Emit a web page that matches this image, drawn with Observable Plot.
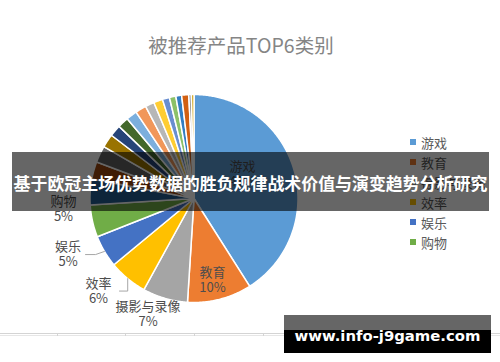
<!DOCTYPE html>
<html><head><meta charset="utf-8">
<script src="https://cdn.jsdelivr.net/npm/d3@7"></script>
<script src="https://cdn.jsdelivr.net/npm/@observablehq/plot@0.6"></script>
<style>
body{margin:0;background:#fff;}
#wrap{position:relative;width:500px;height:362px;overflow:hidden;background:#fff;font-family:"Noto Sans CJK SC","Noto Sans",sans-serif;}
#wrap svg{position:absolute;left:0;top:0;}
.title{position:absolute;left:0;width:482px;top:30px;text-align:center;font-size:19.5px;line-height:30px;color:#858585;}
.legend{position:absolute;left:410px;top:132px;}
.legend .item{height:20px;display:flex;align-items:center;font-size:13px;color:#595959;}
.legend .sw{width:6px;height:6px;margin-right:5px;}
.grid{position:absolute;left:0;width:500px;height:0;border-top:1px solid #d4d4d4;}
.tick{position:absolute;width:0;height:3px;border-left:1px solid #d4d4d4;top:333px;}
.banner{position:absolute;left:12px;top:152px;width:477px;height:59px;background:rgba(0,0,0,0.6);color:#fff;font-weight:bold;font-size:18px;text-align:center;line-height:62px;white-space:nowrap;overflow:visible;}
.mark{position:absolute;left:284px;top:315px;width:207px;height:38px;background:linear-gradient(#666 0,#666 15px,#000 15px,#000 100%);color:#fff;font-family:"DejaVu Sans","Liberation Sans",sans-serif;font-weight:bold;font-size:18px;line-height:41px;text-align:center;white-space:nowrap;}
.fit{display:inline-block;}
</style></head><body>
<div id="wrap"></div>
<script>
// ---- data ----
const categories = ["游戏","教育","摄影与录像","效率","娱乐","购物",
  "其他1","其他2","其他3","其他4","其他5","其他6","其他7","其他8",
  "其他9","其他10","其他11","其他12","其他13","其他14","其他15","其他16"];
const shares = [41,10,7,6,5,5,
  4.0,2.7,2.6,2.1,1.8,1.7,1.7,1.7,1.4,1.4,1.1,1.0,0.9,1.1,0.4,0.4];
const colors = ["#5B9BD5","#ED7D31","#A5A5A5","#FFC000","#4472C4","#70AD47",
  "#255E91","#9E480E","#636363","#997300","#264478","#43682B","#7CAFDD","#F1975A",
  "#B7B7B7","#FFCD33","#698ED0","#8CC168","#327DC2","#D26012","#848484","#CC9A00"];
const percentLabels = ["41%","10%","7%","6%","5%","5%"];
const legendCount = 6;
const titleText = "被推荐产品TOP6类别";
const bannerText = "基于欧冠主场优势数据的胜负规律战术价值与演变趋势分析研究";
const watermarkText = "www.info-j9game.com";

// ---- layout (pixels / polar tweaks) ----
const W = 500, H = 362, cx = 193.5, cy = 198, R = 104;
const labelLayout = [ // angle shift (deg) from slice middle, radius as fraction of R
  {da:-11.1, r:0.525},{da:1.5, r:0.80},{da:5.5, r:1.195},
  {da:6.3, r:1.279},{da:6.8, r:1.324},{da:8.0, r:1.259}];

const table = categories.map((c,i)=>({category:c, share:shares[i]}));
const arcs = d3.pie().sort(null).value(d=>d.share)(table);

const slicePts = arcs.flatMap(a=>{
  const n = Math.max(2, Math.ceil((a.endAngle-a.startAngle)/0.01));
  const c = a.data.category;
  const pts=[{category:c,x:0,y:0}];
  for(let k=0;k<=n;k++){const t=a.startAngle+(a.endAngle-a.startAngle)*k/n;pts.push({category:c,x:Math.sin(t),y:Math.cos(t)});}
  pts.push({category:c,x:0,y:0});
  return pts;
});

const labels = arcs.slice(0,legendCount).map((a,i)=>{
  const mid=(a.startAngle+a.endAngle)/2 + labelLayout[i].da*Math.PI/180;
  const r=labelLayout[i].r;
  return {text:a.data.category+"\n"+percentLabels[i], x:r*Math.sin(mid), y:r*Math.cos(mid), mid:(a.startAngle+a.endAngle)/2};
});

// leader lines (效率, 娱乐)
const px = p=>p/R; // pixel length to radius units
const lEff = labels[3], lEnt = labels[4];
const leaders = [
  {g:"eff",x:Math.sin(lEff.mid),y:Math.cos(lEff.mid)},
  {g:"eff",x:Math.sin(lEff.mid),y:lEff.y},
  {g:"eff",x:lEff.x+px(21),y:lEff.y},
  {g:"ent",x:Math.sin(lEnt.mid),y:Math.cos(lEnt.mid)},
  {g:"ent",x:lEnt.x+px(27.5),y:lEnt.y+px(-0.5)},
  {g:"ent",x:lEnt.x+px(17.5),y:lEnt.y+px(-0.5)}
];

const chart = Plot.plot({
  width:W, height:H, margin:0,
  x:{domain:[-cx/R,(W-cx)/R], range:[0,W], axis:null},
  y:{domain:[-(H-cy)/R, cy/R], range:[H,0], axis:null},
  color:{domain:categories, range:colors},
  style:{background:"transparent"},
  marks:[
    Plot.line(slicePts,{x:"x",y:"y",z:"category",fill:"category",stroke:"white",strokeWidth:1.5,strokeLinejoin:"round"}),
    Plot.line(leaders,{x:"x",y:"y",z:"g",stroke:"#a6a6a6",strokeWidth:1}),
    Plot.text(labels,{x:"x",y:"y",text:"text",fontSize:13,lineHeight:1.15,lineAnchor:"middle",textAnchor:"middle",fill:"#4d4d4d",fontFamily:"Noto Sans CJK SC"})
  ]
});

const wrap=document.getElementById("wrap");
[[333,"#d4d4d4"],[335,"#e6e6e6"]].forEach(([t,c])=>{const d=document.createElement("div");d.className="grid";d.style.top=t+"px";d.style.borderTopColor=c;wrap.appendChild(d);});
[57,125,194,263].forEach(x=>{const d=document.createElement("div");d.className="tick";d.style.left=x+"px";wrap.appendChild(d);});
wrap.appendChild(chart);

const title=document.createElement("div");title.className="title";title.textContent=titleText;wrap.appendChild(title);

const legend=document.createElement("div");legend.className="legend";
categories.slice(0,legendCount).forEach((c,i)=>{
  const it=document.createElement("div");it.className="item";
  const sw=document.createElement("span");sw.className="sw";sw.style.background=colors[i];
  const tx=document.createElement("span");tx.textContent=c;
  it.appendChild(sw);it.appendChild(tx);legend.appendChild(it);
});
wrap.appendChild(legend);

function fitText(box, text, targetW){
  const s=document.createElement("span");s.className="fit";s.textContent=text;box.appendChild(s);
  const fs=parseFloat(getComputedStyle(box).fontSize);
  const w=s.getBoundingClientRect().width;
  if(w>0){box.style.fontSize=(fs*targetW/w).toFixed(2)+"px";}
}
const banner=document.createElement("div");banner.className="banner";wrap.appendChild(banner);
fitText(banner, bannerText, 474);
const mark=document.createElement("div");mark.className="mark";wrap.appendChild(mark);
fitText(mark, watermarkText, 186);
</script>
</body></html>
